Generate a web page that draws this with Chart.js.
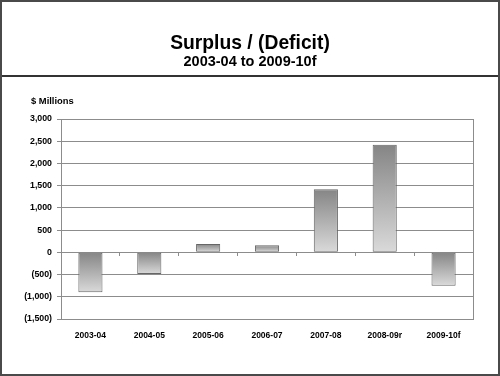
<!DOCTYPE html>
<html>
<head>
<meta charset="utf-8">
<script src="https://cdn.jsdelivr.net/npm/chart.js@4/dist/chart.umd.min.js"></script>
<style>
  html, body { margin: 0; padding: 0; background: #fff; }
  #wrap { position: relative; width: 500px; height: 376px; overflow: hidden; font-family: "Liberation Sans", Arial, sans-serif; }
  #frame { position: absolute; left: 0; top: 0; width: 500px; height: 376px; box-sizing: border-box; border: 2px solid #4a4a4a; pointer-events: none; }
  #hline { position: absolute; left: 0; top: 75px; width: 500px; height: 2px; background: #333; }
  .t { position: absolute; left: 0; width: 500px; text-align: center; font-weight: bold; color: #000; white-space: nowrap; }
  #title { top: 32.6px; font-size: 19.3px; line-height: 19.3px; }
  #sub { top: 54.4px; font-size: 14.5px; line-height: 14.5px; }
  #unit { position: absolute; left: 31px; top: 95.5px; font-size: 9.4px; line-height: 9.4px; font-weight: bold; }
  canvas { position: absolute; left: 0; top: 0; }
</style>
</head>
<body>
<div id="wrap">
  <canvas id="c" width="500" height="376"></canvas>
  <div id="hline"></div>
  <div class="t" id="title">Surplus / (Deficit)</div>
  <div class="t" id="sub">2003-04 to 2009-10f</div>
  <div id="unit">$ Millions</div>
  <div id="frame"></div>
</div>
<script>
const categories = ["2003-04", "2004-05", "2005-06", "2006-07", "2007-08", "2008-09r", "2009-10f"];
const surplus = [-900, -485, 190, 160, 1420, 2420, -750];
const yTicks = [-1500, -1000, -500, 0, 500, 1000, 1500, 2000, 2500, 3000];

function fmt(v) {
  const s = Math.abs(v).toLocaleString("en-US");
  return v < 0 ? "(" + s + ")" : s;
}

const frameBox = {
  id: "frameBox",
  afterDatasetsDraw(chart) {
    const a = chart.chartArea, ctx = chart.ctx;
    ctx.save();
    ctx.strokeStyle = "#8c8c8c";
    ctx.lineWidth = 1;
    ctx.strokeRect(Math.round(a.left) + 0.5, Math.round(a.top) + 0.5, Math.round(a.right - a.left), Math.round(a.bottom - a.top));
    ctx.restore();
  }
};

function barGradient(context) {
  const chart = context.chart;
  const ys = chart.scales.y;
  if (!ys || context.type !== "data") return "#aaa";
  const v = context.raw;
  const p0 = ys.getPixelForValue(0), p1 = ys.getPixelForValue(v);
  const top = Math.min(p0, p1), bot = Math.max(p0, p1);
  if (!isFinite(top) || bot - top < 1) return "#999";
  const g = chart.ctx.createLinearGradient(0, top, 0, bot);
  g.addColorStop(0, "#858585");
  g.addColorStop(1, "#dadada");
  return g;
}

new Chart(document.getElementById("c"), {
  type: "bar",
  data: {
    labels: categories,
    datasets: [{
      data: surplus,
      backgroundColor: barGradient,
      borderColor: "#666666",
      borderWidth: 1,
      borderSkipped: false,
      barPercentage: 0.41,
      categoryPercentage: 1
    }]
  },
  options: {
    responsive: false,
    animation: false,
    layout: { padding: { left: 0, right: 27, top: 119, bottom: 0 } },
    plugins: { legend: { display: false }, tooltip: { enabled: false } },
    scales: {
      x: {
        type: "category",
        position: "bottom",
        offset: true,
        grid: { display: false, drawTicks: false },
        border: { display: false },
        ticks: { color: "#000", font: { family: "'Liberation Sans', Arial", size: 8.5, weight: "bold" }, padding: 12, maxRotation: 0, autoSkip: false },
        afterFit(s) { s.height = 57; }
      },
      xz: {
        type: "category",
        labels: categories,
        position: { y: 0 },
        offset: true,
        grid: { offset: true, drawOnChartArea: false, drawTicks: true, tickLength: 4, color: "#8c8c8c" },
        border: { display: false },
        ticks: { display: true, color: "rgba(0,0,0,0)", font: { size: 1 }, padding: 0 }
      },
      y: {
        min: -1500,
        max: 3000,
        afterBuildTicks(s) { s.ticks = yTicks.map(v => ({ value: v })); },
        grid: { color: "#8c8c8c", lineWidth: 1, tickLength: 4, drawTicks: true },
        border: { display: false },
        ticks: { color: "#000", font: { family: "'Liberation Sans', Arial", size: 8.8, weight: "bold" }, padding: 5, callback: v => fmt(v) },
        afterFit(s) { s.width = 61; }
      }
    }
  },
  plugins: [frameBox]
});
</script>
</body>
</html>
